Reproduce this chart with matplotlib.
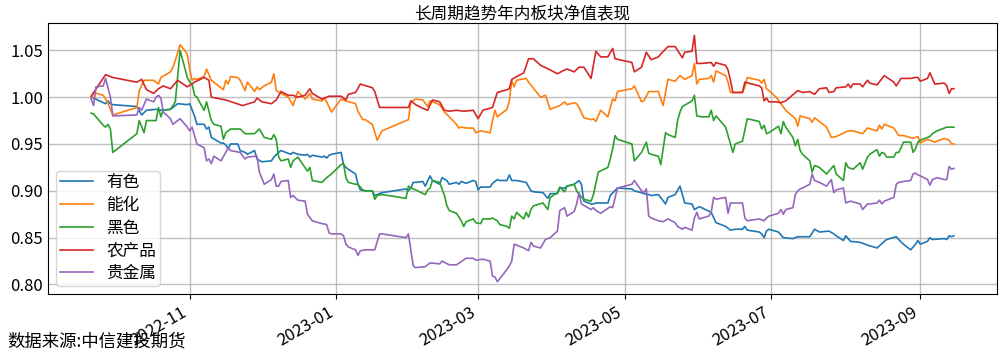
import matplotlib
matplotlib.use("Agg")
import matplotlib.pyplot as plt
import matplotlib.dates as mdates
from matplotlib.ticker import FormatStrFormatter
import pandas as pd

plt.rcParams['font.family'] = ['Noto Sans CJK SC', 'DejaVu Sans']
plt.rcParams['axes.unicode_minus'] = False

names = ["有色", "能化", "黑色", "农产品", "贵金属"]

# 有色
ys_dates = ["2022-09-21", "2022-09-22", "2022-09-27", "2022-09-28", "2022-09-29", "2022-09-30", "2022-10-10",
            "2022-10-12", "2022-10-14", "2022-10-18", "2022-10-20", "2022-10-24", "2022-10-25", "2022-10-27",
            "2022-10-31", "2022-11-01", "2022-11-03", "2022-11-04", "2022-11-07", "2022-11-08", "2022-11-09",
            "2022-11-10", "2022-11-14", "2022-11-15", "2022-11-16", "2022-11-17", "2022-11-18", "2022-11-21",
            "2022-11-22", "2022-11-24", "2022-11-25", "2022-11-28", "2022-11-29", "2022-12-01", "2022-12-05",
            "2022-12-06", "2022-12-08", "2022-12-09", "2022-12-13", "2022-12-14", "2022-12-16", "2022-12-19",
            "2022-12-20", "2022-12-21", "2022-12-22", "2022-12-26", "2022-12-27", "2022-12-28", "2022-12-29",
            "2022-12-30", "2023-01-03", "2023-01-04", "2023-01-05", "2023-01-06", "2023-01-09", "2023-01-10",
            "2023-01-11", "2023-01-13", "2023-01-16", "2023-01-17", "2023-01-18", "2023-01-20", "2023-01-30",
            "2023-01-31", "2023-02-01", "2023-02-02", "2023-02-03", "2023-02-06", "2023-02-07", "2023-02-09",
            "2023-02-10", "2023-02-13", "2023-02-14", "2023-02-16", "2023-02-17", "2023-02-20", "2023-02-21",
            "2023-02-22", "2023-02-24", "2023-02-27", "2023-02-28", "2023-03-01", "2023-03-02", "2023-03-06",
            "2023-03-07", "2023-03-09", "2023-03-10", "2023-03-13", "2023-03-14", "2023-03-15", "2023-03-16",
            "2023-03-17", "2023-03-21", "2023-03-23", "2023-03-24", "2023-03-28", "2023-03-30", "2023-03-31",
            "2023-04-03", "2023-04-04", "2023-04-06", "2023-04-07", "2023-04-10", "2023-04-11", "2023-04-12",
            "2023-04-13", "2023-04-14", "2023-04-17", "2023-04-18", "2023-04-19", "2023-04-21", "2023-04-24",
            "2023-04-25", "2023-04-28", "2023-05-04", "2023-05-05", "2023-05-08", "2023-05-09", "2023-05-11",
            "2023-05-12", "2023-05-15", "2023-05-18", "2023-05-19", "2023-05-22", "2023-05-24", "2023-05-25",
            "2023-05-26", "2023-05-29", "2023-05-30", "2023-06-01", "2023-06-02", "2023-06-06", "2023-06-08",
            "2023-06-12", "2023-06-14", "2023-06-16", "2023-06-19", "2023-06-20", "2023-06-21", "2023-06-26",
            "2023-06-27", "2023-06-28", "2023-06-29", "2023-06-30", "2023-07-04", "2023-07-06", "2023-07-10",
            "2023-07-12", "2023-07-14", "2023-07-17", "2023-07-19", "2023-07-21", "2023-07-25", "2023-07-27",
            "2023-07-28", "2023-07-31", "2023-08-01", "2023-08-03", "2023-08-07", "2023-08-10", "2023-08-14",
            "2023-08-17", "2023-08-18", "2023-08-22", "2023-08-23", "2023-08-25", "2023-08-28", "2023-08-30",
            "2023-08-31", "2023-09-01", "2023-09-04", "2023-09-05", "2023-09-06", "2023-09-11", "2023-09-12",
            "2023-09-13", "2023-09-14", "2023-09-15"]
ys_vals = [1.000, 0.999, 0.993, 0.996, 0.993, 0.992, 0.990, 0.981, 0.986, 0.987, 0.986, 0.987, 0.989, 0.993,
           0.992, 0.993, 0.980, 0.971, 0.971, 0.966, 0.968, 0.957, 0.951, 0.951, 0.949, 0.945, 0.950, 0.950,
           0.943, 0.941, 0.939, 0.943, 0.934, 0.931, 0.932, 0.936, 0.941, 0.943, 0.939, 0.941, 0.939, 0.938,
           0.939, 0.936, 0.938, 0.936, 0.937, 0.935, 0.938, 0.939, 0.941, 0.928, 0.925, 0.923, 0.918, 0.907,
           0.901, 0.900, 0.900, 0.895, 0.896, 0.898, 0.902, 0.900, 0.903, 0.909, 0.909, 0.910, 0.905, 0.916,
           0.911, 0.907, 0.914, 0.911, 0.907, 0.909, 0.907, 0.910, 0.908, 0.911, 0.910, 0.901, 0.904, 0.904,
           0.908, 0.912, 0.911, 0.911, 0.917, 0.911, 0.911, 0.911, 0.909, 0.900, 0.899, 0.898, 0.892, 0.897,
           0.897, 0.903, 0.903, 0.905, 0.907, 0.909, 0.911, 0.907, 0.889, 0.886, 0.886, 0.887, 0.887, 0.887,
           0.895, 0.903, 0.902, 0.900, 0.898, 0.897, 0.896, 0.895, 0.896, 0.886, 0.893, 0.896, 0.905, 0.896,
           0.887, 0.886, 0.880, 0.883, 0.882, 0.877, 0.866, 0.862, 0.858, 0.859, 0.859, 0.862, 0.858, 0.856,
           0.854, 0.850, 0.857, 0.859, 0.856, 0.850, 0.849, 0.851, 0.851, 0.851, 0.859, 0.856, 0.857, 0.854,
           0.852, 0.847, 0.852, 0.846, 0.845, 0.842, 0.839, 0.846, 0.848, 0.851, 0.848, 0.843, 0.837, 0.843,
           0.847, 0.843, 0.846, 0.850, 0.848, 0.849, 0.848, 0.852, 0.851, 0.852]

# 能化
nh_dates = ["2022-09-21", "2022-09-22", "2022-09-26", "2022-09-27", "2022-09-28", "2022-09-30", "2022-10-10",
            "2022-10-11", "2022-10-13", "2022-10-17", "2022-10-19", "2022-10-20", "2022-10-24", "2022-10-25",
            "2022-10-26", "2022-10-28", "2022-10-31", "2022-11-01", "2022-11-02", "2022-11-03", "2022-11-04",
            "2022-11-07", "2022-11-08", "2022-11-10", "2022-11-11", "2022-11-15", "2022-11-16", "2022-11-17",
            "2022-11-18", "2022-11-21", "2022-11-22", "2022-11-24", "2022-11-25", "2022-11-28", "2022-11-29",
            "2022-11-30", "2022-12-02", "2022-12-05", "2022-12-06", "2022-12-07", "2022-12-12", "2022-12-14",
            "2022-12-16", "2022-12-19", "2022-12-21", "2022-12-22", "2022-12-26", "2022-12-27", "2022-12-28",
            "2022-12-30", "2023-01-03", "2023-01-05", "2023-01-09", "2023-01-10", "2023-01-12", "2023-01-13",
            "2023-01-16", "2023-01-18", "2023-01-20", "2023-01-31", "2023-02-01", "2023-02-03", "2023-02-06",
            "2023-02-08", "2023-02-09", "2023-02-13", "2023-02-15", "2023-02-17", "2023-02-20", "2023-02-21",
            "2023-02-22", "2023-02-24", "2023-02-27", "2023-02-28", "2023-03-02", "2023-03-06", "2023-03-07",
            "2023-03-08", "2023-03-09", "2023-03-13", "2023-03-14", "2023-03-15", "2023-03-16", "2023-03-17",
            "2023-03-21", "2023-03-22", "2023-03-27", "2023-03-29", "2023-03-31", "2023-04-04", "2023-04-06",
            "2023-04-07", "2023-04-10", "2023-04-11", "2023-04-12", "2023-04-14", "2023-04-17", "2023-04-18",
            "2023-04-19", "2023-04-21", "2023-04-24", "2023-04-26", "2023-04-27", "2023-04-28", "2023-05-04",
            "2023-05-05", "2023-05-08", "2023-05-09", "2023-05-11", "2023-05-15", "2023-05-17", "2023-05-19",
            "2023-05-22", "2023-05-24", "2023-05-26", "2023-05-29", "2023-05-30", "2023-05-31", "2023-06-01",
            "2023-06-05", "2023-06-06", "2023-06-07", "2023-06-08", "2023-06-12", "2023-06-13", "2023-06-14",
            "2023-06-19", "2023-06-20", "2023-06-21", "2023-06-26", "2023-06-27", "2023-06-28", "2023-06-29",
            "2023-06-30", "2023-07-03", "2023-07-05", "2023-07-07", "2023-07-11", "2023-07-12", "2023-07-13",
            "2023-07-17", "2023-07-18", "2023-07-19", "2023-07-24", "2023-07-26", "2023-07-28", "2023-08-02",
            "2023-08-04", "2023-08-08", "2023-08-10", "2023-08-14", "2023-08-15", "2023-08-16", "2023-08-17",
            "2023-08-21", "2023-08-23", "2023-08-25", "2023-08-29", "2023-08-31", "2023-09-01", "2023-09-04",
            "2023-09-07", "2023-09-11", "2023-09-13", "2023-09-14", "2023-09-15"]
nh_vals = [0.998, 1.005, 1.002, 0.998, 0.993, 0.981, 0.989, 1.007, 1.018, 1.018, 1.014, 1.021, 1.027, 1.032,
           1.039, 1.056, 1.046, 1.029, 1.018, 1.020, 1.019, 1.022, 1.030, 1.018, 1.016, 1.008, 1.018, 1.014,
           1.022, 1.021, 1.018, 1.007, 1.016, 1.006, 1.011, 1.008, 1.012, 1.016, 1.025, 1.007, 1.000, 0.991,
           1.006, 0.998, 1.004, 0.998, 0.996, 0.999, 0.995, 0.984, 0.998, 0.996, 0.993, 0.985, 0.976, 0.976,
           0.971, 0.954, 0.964, 0.976, 0.995, 0.998, 0.997, 0.990, 0.996, 0.992, 0.984, 0.979, 0.971, 0.967,
           0.968, 0.967, 0.967, 0.962, 0.964, 0.962, 0.975, 0.986, 0.979, 0.987, 0.996, 1.018, 1.011, 1.018,
           1.020, 1.016, 1.000, 1.002, 0.987, 0.991, 0.995, 0.992, 0.994, 0.993, 0.989, 0.978, 0.976, 0.977,
           0.974, 0.986, 0.979, 0.998, 0.996, 1.006, 1.009, 1.012, 0.995, 0.996, 1.006, 1.006, 0.991, 1.019,
           1.017, 1.023, 1.019, 1.023, 1.036, 1.014, 1.019, 1.020, 1.023, 1.016, 1.028, 1.023, 1.016, 1.005,
           1.005, 1.011, 1.021, 1.018, 1.015, 1.019, 1.009, 1.007, 1.000, 0.993, 0.986, 0.977, 0.969, 0.980,
           0.977, 0.973, 0.978, 0.968, 0.957, 0.958, 0.964, 0.964, 0.961, 0.967, 0.964, 0.970, 0.966, 0.971,
           0.967, 0.959, 0.959, 0.956, 0.958, 0.951, 0.955, 0.952, 0.956, 0.954, 0.950, 0.950]

# 黑色
hs_dates = ["2022-09-21", "2022-09-22", "2022-09-26", "2022-09-27", "2022-09-28", "2022-09-29", "2022-09-30",
            "2022-10-10", "2022-10-11", "2022-10-13", "2022-10-14", "2022-10-18", "2022-10-19", "2022-10-20",
            "2022-10-21", "2022-10-24", "2022-10-26", "2022-10-28", "2022-10-31", "2022-11-01", "2022-11-02",
            "2022-11-03", "2022-11-04", "2022-11-07", "2022-11-08", "2022-11-10", "2022-11-11", "2022-11-14",
            "2022-11-15", "2022-11-16", "2022-11-18", "2022-11-22", "2022-11-24", "2022-11-28", "2022-11-30",
            "2022-12-02", "2022-12-05", "2022-12-06", "2022-12-07", "2022-12-08", "2022-12-09", "2022-12-12",
            "2022-12-13", "2022-12-14", "2022-12-16", "2022-12-20", "2022-12-21", "2022-12-22", "2022-12-26",
            "2022-12-28", "2022-12-30", "2023-01-03", "2023-01-04", "2023-01-05", "2023-01-06", "2023-01-09",
            "2023-01-10", "2023-01-12", "2023-01-13", "2023-01-16", "2023-01-17", "2023-01-18", "2023-01-20",
            "2023-01-30", "2023-01-31", "2023-02-01", "2023-02-03", "2023-02-07", "2023-02-08", "2023-02-09",
            "2023-02-10", "2023-02-13", "2023-02-15", "2023-02-16", "2023-02-17", "2023-02-20", "2023-02-22",
            "2023-02-23", "2023-02-24", "2023-02-27", "2023-02-28", "2023-03-02", "2023-03-03", "2023-03-06",
            "2023-03-07", "2023-03-09", "2023-03-10", "2023-03-13", "2023-03-14", "2023-03-15", "2023-03-16",
            "2023-03-17", "2023-03-20", "2023-03-21", "2023-03-22", "2023-03-23", "2023-03-24", "2023-03-28",
            "2023-03-30", "2023-03-31", "2023-04-03", "2023-04-04", "2023-04-06", "2023-04-07", "2023-04-10",
            "2023-04-11", "2023-04-12", "2023-04-14", "2023-04-17", "2023-04-18", "2023-04-20", "2023-04-24",
            "2023-04-25", "2023-04-26", "2023-04-27", "2023-04-28", "2023-05-04", "2023-05-05", "2023-05-08",
            "2023-05-10", "2023-05-11", "2023-05-12", "2023-05-15", "2023-05-16", "2023-05-17", "2023-05-18",
            "2023-05-19", "2023-05-22", "2023-05-23", "2023-05-24", "2023-05-25", "2023-05-29", "2023-05-30",
            "2023-05-31", "2023-06-02", "2023-06-05", "2023-06-06", "2023-06-07", "2023-06-08", "2023-06-12",
            "2023-06-13", "2023-06-15", "2023-06-16", "2023-06-19", "2023-06-21", "2023-06-26", "2023-06-27",
            "2023-06-28", "2023-06-29", "2023-06-30", "2023-07-04", "2023-07-05", "2023-07-06", "2023-07-07",
            "2023-07-10", "2023-07-11", "2023-07-12", "2023-07-13", "2023-07-14", "2023-07-17", "2023-07-18",
            "2023-07-19", "2023-07-20", "2023-07-21", "2023-07-24", "2023-07-25", "2023-07-27", "2023-07-28",
            "2023-07-31", "2023-08-01", "2023-08-02", "2023-08-04", "2023-08-07", "2023-08-08", "2023-08-10",
            "2023-08-11", "2023-08-14", "2023-08-15", "2023-08-16", "2023-08-17", "2023-08-18", "2023-08-21",
            "2023-08-22", "2023-08-23", "2023-08-24", "2023-08-25", "2023-08-28", "2023-08-29", "2023-08-30",
            "2023-08-31", "2023-09-01", "2023-09-05", "2023-09-06", "2023-09-08", "2023-09-11", "2023-09-12",
            "2023-09-15"]
hs_vals = [0.983, 0.982, 0.970, 0.968, 0.971, 0.966, 0.941, 0.961, 0.975, 0.962, 0.975, 0.975, 0.989, 0.979,
           0.986, 0.987, 0.995, 1.050, 1.021, 1.016, 1.014, 1.002, 1.000, 0.986, 0.995, 0.975, 0.971, 0.969,
           0.955, 0.962, 0.966, 0.966, 0.961, 0.961, 0.966, 0.957, 0.955, 0.960, 0.955, 0.936, 0.932, 0.934,
           0.925, 0.932, 0.936, 0.921, 0.925, 0.911, 0.909, 0.914, 0.918, 0.928, 0.929, 0.914, 0.909, 0.907,
           0.907, 0.901, 0.900, 0.900, 0.891, 0.895, 0.896, 0.892, 0.905, 0.903, 0.901, 0.896, 0.901, 0.903,
           0.911, 0.909, 0.895, 0.884, 0.879, 0.876, 0.868, 0.862, 0.867, 0.870, 0.866, 0.865, 0.870, 0.870,
           0.871, 0.868, 0.864, 0.862, 0.860, 0.873, 0.870, 0.877, 0.870, 0.877, 0.872, 0.880, 0.884, 0.887,
           0.880, 0.893, 0.898, 0.904, 0.899, 0.905, 0.907, 0.900, 0.896, 0.891, 0.889, 0.896, 0.920, 0.925,
           0.934, 0.945, 0.959, 0.955, 0.950, 0.932, 0.941, 0.952, 0.940, 0.939, 0.937, 0.928, 0.945, 0.962,
           0.960, 0.957, 0.975, 0.984, 0.990, 0.996, 1.002, 0.980, 0.979, 0.979, 0.986, 0.975, 0.980, 0.968,
           0.959, 0.941, 0.950, 0.953, 0.977, 0.974, 0.966, 0.970, 0.961, 0.962, 0.969, 0.961, 0.974, 0.968,
           0.957, 0.948, 0.955, 0.943, 0.939, 0.932, 0.920, 0.927, 0.926, 0.925, 0.918, 0.921, 0.927, 0.918,
           0.911, 0.930, 0.925, 0.923, 0.930, 0.923, 0.936, 0.939, 0.944, 0.937, 0.941, 0.940, 0.936, 0.936,
           0.941, 0.941, 0.946, 0.952, 0.952, 0.941, 0.945, 0.952, 0.954, 0.958, 0.961, 0.964, 0.967, 0.968,
           0.968]

# 农产品
nc_dates = ["2022-09-21", "2022-09-27", "2022-09-30", "2022-10-10", "2022-10-12", "2022-10-14", "2022-10-17",
            "2022-10-19", "2022-10-21", "2022-10-24", "2022-10-27", "2022-10-31", "2022-11-03", "2022-11-07",
            "2022-11-09", "2022-11-10", "2022-11-16", "2022-11-23", "2022-11-28", "2022-11-29", "2022-12-01",
            "2022-12-05", "2022-12-07", "2022-12-09", "2022-12-12", "2022-12-14", "2022-12-16", "2022-12-19",
            "2022-12-21", "2022-12-22", "2022-12-26", "2022-12-29", "2023-01-03", "2023-01-05", "2023-01-06",
            "2023-01-09", "2023-01-11", "2023-01-16", "2023-01-17", "2023-01-19", "2023-01-31", "2023-02-01",
            "2023-02-03", "2023-02-06", "2023-02-08", "2023-02-10", "2023-02-13", "2023-02-15", "2023-02-17",
            "2023-02-20", "2023-02-23", "2023-02-27", "2023-03-01", "2023-03-03", "2023-03-07", "2023-03-09",
            "2023-03-13", "2023-03-14", "2023-03-15", "2023-03-20", "2023-03-22", "2023-03-24", "2023-03-27",
            "2023-03-31", "2023-04-03", "2023-04-06", "2023-04-07", "2023-04-10", "2023-04-12", "2023-04-14",
            "2023-04-17", "2023-04-19", "2023-04-21", "2023-04-24", "2023-04-26", "2023-04-27", "2023-05-04",
            "2023-05-05", "2023-05-08", "2023-05-10", "2023-05-12", "2023-05-15", "2023-05-16", "2023-05-19",
            "2023-05-22", "2023-05-23", "2023-05-25", "2023-05-26", "2023-05-29", "2023-05-30", "2023-05-31",
            "2023-06-02", "2023-06-06", "2023-06-07", "2023-06-08", "2023-06-09", "2023-06-12", "2023-06-13",
            "2023-06-14", "2023-06-15", "2023-06-19", "2023-06-20", "2023-06-26", "2023-06-27", "2023-06-28",
            "2023-06-29", "2023-06-30", "2023-07-03", "2023-07-05", "2023-07-07", "2023-07-12", "2023-07-14",
            "2023-07-17", "2023-07-19", "2023-07-21", "2023-07-24", "2023-07-25", "2023-07-27", "2023-07-28",
            "2023-08-01", "2023-08-02", "2023-08-03", "2023-08-04", "2023-08-07", "2023-08-08", "2023-08-10",
            "2023-08-11", "2023-08-14", "2023-08-17", "2023-08-21", "2023-08-22", "2023-08-24", "2023-08-28",
            "2023-08-30", "2023-08-31", "2023-09-01", "2023-09-04", "2023-09-05", "2023-09-07", "2023-09-11",
            "2023-09-12", "2023-09-13", "2023-09-14", "2023-09-15"]
nc_vals = [1.001, 1.024, 1.021, 1.016, 1.019, 1.008, 1.004, 1.009, 1.012, 1.009, 1.018, 1.011, 1.016, 1.021,
           1.018, 1.000, 0.997, 0.991, 0.995, 0.999, 0.995, 0.993, 0.997, 1.006, 1.002, 1.002, 1.000, 1.002,
           1.009, 1.004, 0.998, 1.001, 1.001, 0.997, 1.003, 1.005, 1.014, 1.010, 1.006, 0.989, 0.989, 0.996,
           0.992, 0.988, 0.986, 0.997, 0.995, 0.986, 0.985, 0.986, 0.985, 0.986, 0.977, 0.986, 0.989, 1.005,
           1.008, 1.009, 1.019, 1.026, 1.041, 1.041, 1.034, 1.029, 1.025, 1.029, 1.030, 1.027, 1.032, 1.032,
           1.020, 1.049, 1.043, 1.043, 1.052, 1.041, 1.037, 1.027, 1.032, 1.048, 1.040, 1.043, 1.046, 1.054,
           1.054, 1.050, 1.042, 1.048, 1.049, 1.066, 1.036, 1.036, 1.037, 1.033, 1.037, 1.036, 1.034, 1.029,
           1.018, 1.005, 1.005, 1.016, 1.012, 1.010, 0.996, 0.999, 0.995, 0.995, 0.994, 0.996, 1.007, 1.005,
           1.006, 1.003, 1.009, 1.010, 1.005, 1.006, 1.010, 1.011, 1.014, 1.010, 1.014, 1.014, 1.011, 1.018,
           1.015, 1.013, 1.023, 1.016, 1.012, 1.020, 1.020, 1.021, 1.021, 1.017, 1.020, 1.026, 1.014, 1.015,
           1.012, 1.004, 1.009, 1.009]

# 贵金属
gj_dates = ["2022-09-21", "2022-09-22", "2022-09-23", "2022-09-26", "2022-09-27", "2022-09-29", "2022-09-30",
            "2022-10-10", "2022-10-11", "2022-10-12", "2022-10-14", "2022-10-17", "2022-10-18", "2022-10-19",
            "2022-10-20", "2022-10-21", "2022-10-24", "2022-10-25", "2022-10-26", "2022-10-28", "2022-10-31",
            "2022-11-01", "2022-11-02", "2022-11-03", "2022-11-04", "2022-11-07", "2022-11-08", "2022-11-09",
            "2022-11-10", "2022-11-11", "2022-11-14", "2022-11-16", "2022-11-17", "2022-11-18", "2022-11-22",
            "2022-11-24", "2022-11-25", "2022-11-29", "2022-11-30", "2022-12-02", "2022-12-05", "2022-12-06",
            "2022-12-07", "2022-12-08", "2022-12-09", "2022-12-12", "2022-12-13", "2022-12-14", "2022-12-16",
            "2022-12-19", "2022-12-20", "2022-12-22", "2022-12-26", "2022-12-28", "2022-12-29", "2022-12-30",
            "2023-01-03", "2023-01-04", "2023-01-05", "2023-01-06", "2023-01-09", "2023-01-10", "2023-01-11",
            "2023-01-13", "2023-01-17", "2023-01-19", "2023-01-20", "2023-01-30", "2023-01-31", "2023-02-02",
            "2023-02-03", "2023-02-07", "2023-02-09", "2023-02-13", "2023-02-14", "2023-02-17", "2023-02-20",
            "2023-02-24", "2023-02-27", "2023-02-28", "2023-03-03", "2023-03-06", "2023-03-07", "2023-03-08",
            "2023-03-09", "2023-03-13", "2023-03-14", "2023-03-15", "2023-03-16", "2023-03-20", "2023-03-22",
            "2023-03-23", "2023-03-24", "2023-03-27", "2023-03-29", "2023-03-31", "2023-04-03", "2023-04-04",
            "2023-04-06", "2023-04-07", "2023-04-10", "2023-04-11", "2023-04-12", "2023-04-13", "2023-04-17",
            "2023-04-18", "2023-04-19", "2023-04-21", "2023-04-25", "2023-04-26", "2023-04-28", "2023-05-04",
            "2023-05-05", "2023-05-08", "2023-05-09", "2023-05-10", "2023-05-11", "2023-05-12", "2023-05-15",
            "2023-05-17", "2023-05-19", "2023-05-22", "2023-05-23", "2023-05-25", "2023-05-26", "2023-05-29",
            "2023-05-30", "2023-05-31", "2023-06-01", "2023-06-05", "2023-06-06", "2023-06-07", "2023-06-08",
            "2023-06-12", "2023-06-13", "2023-06-14", "2023-06-16", "2023-06-19", "2023-06-20", "2023-06-21",
            "2023-06-26", "2023-06-27", "2023-06-28", "2023-06-29", "2023-06-30", "2023-07-04", "2023-07-05",
            "2023-07-06", "2023-07-07", "2023-07-10", "2023-07-11", "2023-07-12", "2023-07-13", "2023-07-14",
            "2023-07-17", "2023-07-18", "2023-07-19", "2023-07-21", "2023-07-24", "2023-07-26", "2023-07-27",
            "2023-07-28", "2023-07-31", "2023-08-01", "2023-08-03", "2023-08-07", "2023-08-08", "2023-08-10",
            "2023-08-11", "2023-08-14", "2023-08-15", "2023-08-16", "2023-08-17", "2023-08-21", "2023-08-22",
            "2023-08-23", "2023-08-25", "2023-08-28", "2023-08-29", "2023-08-30", "2023-08-31", "2023-09-01",
            "2023-09-04", "2023-09-05", "2023-09-06", "2023-09-08", "2023-09-11", "2023-09-12", "2023-09-13",
            "2023-09-14", "2023-09-15"]
gj_vals = [0.998, 0.991, 1.011, 1.012, 1.020, 1.000, 0.980, 0.981, 0.989, 0.986, 0.998, 0.995, 1.000, 1.002,
           0.999, 0.984, 0.977, 0.971, 0.973, 0.977, 0.968, 0.964, 0.968, 0.959, 0.950, 0.946, 0.932, 0.934,
           0.929, 0.937, 0.932, 0.941, 0.946, 0.943, 0.941, 0.934, 0.936, 0.937, 0.920, 0.907, 0.912, 0.918,
           0.905, 0.905, 0.910, 0.911, 0.893, 0.895, 0.890, 0.889, 0.875, 0.868, 0.865, 0.864, 0.855, 0.854,
           0.854, 0.852, 0.843, 0.840, 0.837, 0.831, 0.836, 0.837, 0.837, 0.854, 0.854, 0.850, 0.854, 0.820,
           0.818, 0.819, 0.823, 0.822, 0.825, 0.821, 0.821, 0.828, 0.828, 0.826, 0.827, 0.825, 0.809, 0.808,
           0.803, 0.816, 0.820, 0.825, 0.843, 0.839, 0.836, 0.845, 0.841, 0.839, 0.848, 0.850, 0.857, 0.879,
           0.882, 0.873, 0.878, 0.886, 0.898, 0.886, 0.880, 0.882, 0.879, 0.876, 0.883, 0.882, 0.903, 0.907,
           0.911, 0.900, 0.898, 0.902, 0.873, 0.871, 0.868, 0.867, 0.870, 0.866, 0.862, 0.859, 0.861, 0.858,
           0.871, 0.877, 0.870, 0.873, 0.877, 0.893, 0.891, 0.893, 0.876, 0.887, 0.887, 0.887, 0.871, 0.868,
           0.870, 0.869, 0.868, 0.871, 0.873, 0.876, 0.880, 0.875, 0.880, 0.882, 0.896, 0.900, 0.902, 0.903,
           0.907, 0.918, 0.911, 0.909, 0.905, 0.912, 0.898, 0.901, 0.903, 0.887, 0.889, 0.886, 0.880, 0.886,
           0.886, 0.887, 0.890, 0.886, 0.889, 0.893, 0.907, 0.909, 0.910, 0.911, 0.918, 0.919, 0.917, 0.916,
           0.912, 0.906, 0.912, 0.914, 0.912, 0.912, 0.926, 0.923, 0.924]

series = [(ys_dates, ys_vals), (nh_dates, nh_vals), (hs_dates, hs_vals),
          (nc_dates, nc_vals), (gj_dates, gj_vals)]

fig = plt.figure(figsize=(10.03, 3.54), dpi=100)
ax = fig.add_axes([0.0479, 0.1695, 0.9462, 0.7655])

for name, (d, v) in zip(names, series):
    ax.plot(pd.to_datetime(d), v, lw=1.2, label=name)

ax.grid(True, color="#b0b0b0", lw=1.0, alpha=0.8)
ax.xaxis.set_major_locator(mdates.MonthLocator(bymonth=[1, 3, 5, 7, 9, 11]))
ax.xaxis.set_major_formatter(mdates.DateFormatter("%Y-%m"))
ax.yaxis.set_major_formatter(FormatStrFormatter("%.2f"))
ax.tick_params(labelsize=12)
ax.tick_params(axis="y", length=0, pad=3.5)
plt.setp(ax.get_xticklabels(), rotation=30, ha="right")

ax.set_title("长周期趋势年内板块净值表现", fontsize=12, pad=3)
ax.legend(loc="lower left", fontsize=12, labelspacing=0.35, borderpad=0.2)
fig.text(0.007, 0.035, "数据来源:中信建投期货", fontsize=12.5, va="center")

fig.savefig("out.png", dpi=100)
